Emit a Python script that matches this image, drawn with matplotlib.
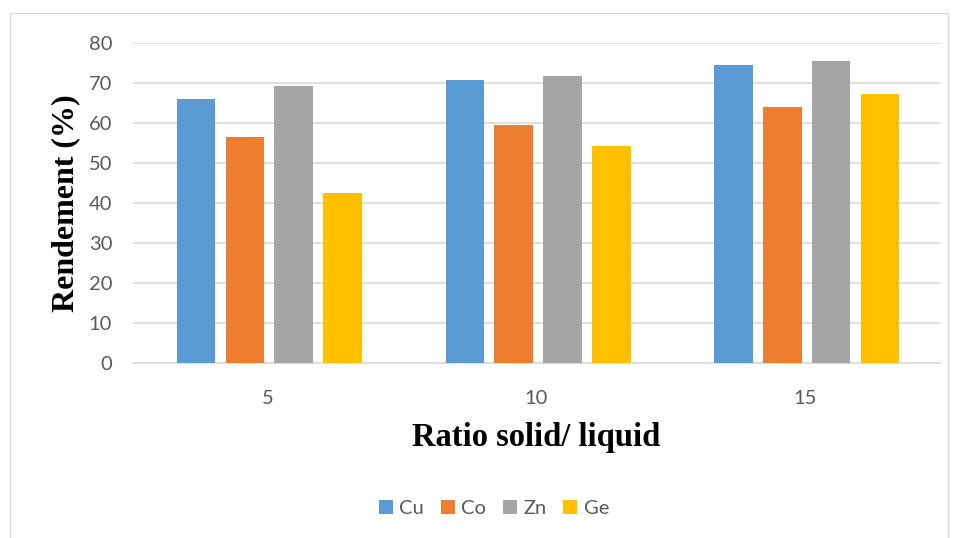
import numpy as np
import matplotlib.pyplot as plt
from matplotlib.patches import Rectangle

ratios = ['5', '10', '15']
metals = ['Cu', 'Co', 'Zn', 'Ge']
cu = [65.9, 70.8, 74.4]
co = [56.5, 59.6, 63.9]
zn = [69.3, 71.7, 75.5]
ge = [42.4, 54.3, 67.3]
colors = ['#5b9bd5', '#ed7d31', '#a5a5a5', '#ffc000']

series = [cu, co, zn, ge]

plt.rcParams['font.family'] = ['Lato', 'DejaVu Sans']

fig = plt.figure(figsize=(9.57, 5.38), dpi=100)
ax = fig.add_axes([0.139, 0.325, 0.843, 0.595])

x = np.arange(len(ratios))
width = 0.142
step = 0.182
for i, (vals, name) in enumerate(zip(series, metals)):
    ax.bar(x + (i - 1.5) * step + 0.006, vals, width, color=colors[i], label=name, zorder=3)

ax.set_xlim(-0.5, 2.5)
ax.set_ylim(0, 80)
ax.set_yticks(range(0, 81, 10))
ax.set_xticks(x)
ax.set_xticklabels(ratios)
ax.grid(axis='y', color='#d9d9d9', linewidth=1.2, zorder=0)
for s in ['top', 'right', 'left']:
    ax.spines[s].set_visible(False)
ax.spines['bottom'].set_color('#d9d9d9')
ax.spines['bottom'].set_linewidth(1.2)
ax.tick_params(length=0, labelsize=14.5, labelcolor='#595959')
ax.tick_params(axis='y', pad=15)
ax.tick_params(axis='x', pad=19)

ax.set_ylabel('Rendement (%)', family='Liberation Serif', fontweight='bold', fontsize=23, labelpad=6)
ax.set_xlabel('Ratio solid/ liquid', family='Liberation Serif', fontweight='bold', fontsize=23.5, labelpad=11)

fig.legend(loc='center', bbox_to_anchor=(0.516, 0.055), ncol=4, frameon=False,
           fontsize=14.5, handlelength=0.7, handleheight=0.7, handletextpad=0.3,
           columnspacing=0.85, labelcolor='#595959')

fig.patches.append(Rectangle((10 / 957, -0.05), 938 / 957, 1.0 - 13 / 538 + 0.05,
                             transform=fig.transFigure, fill=False, edgecolor='#d9d9d9', linewidth=1))

fig.savefig('out.png', dpi=100)
